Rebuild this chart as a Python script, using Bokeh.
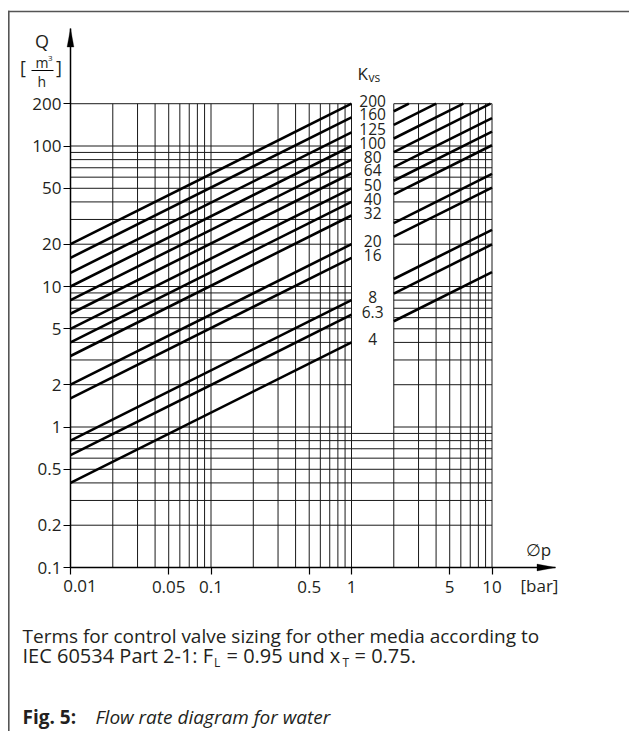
import math
from bokeh.plotting import figure
from bokeh.models import (Range1d, FixedTicker, CustomJSTickFormatter, Label,
                          BoxAnnotation, PolyAnnotation)
from bokeh.core.properties import value
from bokeh.embed import file_html
from bokeh.resources import INLINE

# ---------------- data ----------------
kvs_values = [200, 160, 125, 100, 80, 64, 50, 40, 32, 20, 16, 8, 6.3, 4]
kvs_labels = ["200", "160", "125", "100", "80", "64", "50", "40", "32",
              "20", "16", "8", "6.3", "4"]
dp_segments = [(0.01, 1.0), (2.0, 10.0)]      # drawn pressure-drop ranges [bar]
q_max = 200.0                                  # top of the diagram [m3/h]
x_ticks = [0.01, 0.05, 0.1, 0.5, 1, 5, 10]
y_ticks = [0.1, 0.2, 0.5, 1, 2, 5, 10, 20, 50, 100, 200]
x_grid = [0.01, 0.02, 0.03, 0.04, 0.05, 0.06, 0.07, 0.08, 0.09,
          0.1, 0.2, 0.3, 0.4, 0.5, 0.6, 0.7, 0.8, 0.9,
          1, 2, 3, 4, 5, 6, 7, 8, 9, 10]
y_grid = [0.1, 0.2, 0.3, 0.4, 0.5, 0.6, 0.7, 0.8, 0.9,
          1, 2, 3, 4, 5, 6, 7, 8, 9,
          10, 20, 30, 40, 50, 60, 70, 80, 90, 100, 200]

# ---------------- layout (pixel geometry of the picture) ----------------
W, H = 629, 731
AX_X, AX_Y = 70, 567          # pixel position of dp=0.01 and Q=0.1
TIP_X, TIP_Y = 555, 28        # arrow tips of the axes
DEC = 140.5                   # pixels per decade on both axes
x0, y0 = x_ticks[0], y_ticks[0]
x_lo = x0 * 10 ** ((0 - AX_X) / DEC)
x_hi = x0 * 10 ** ((W - AX_X) / DEC)
y_lo = y0 * 10 ** (-(H - AX_Y) / DEC)
y_hi = y0 * 10 ** (AX_Y / DEC)
x_tip = x0 * 10 ** ((TIP_X - AX_X) / DEC)
y_tip = y0 * 10 ** ((AX_Y - TIP_Y) / DEC)


def sx(px):
    return px


def sy(py):
    return H - py


p = figure(width=W, height=H, x_axis_type="log", y_axis_type="log",
           x_range=Range1d(x_lo, x_hi), y_range=Range1d(y_lo, y_hi),
           output_backend="svg", toolbar_location=None,
           min_border_left=0, min_border_right=0,
           min_border_top=0, min_border_bottom=0)
p.outline_line_color = None
p.grid.visible = False
p.background_fill_color = "white"
p.border_fill_color = "white"

FONT = "Open Sans"
INK = "#231f20"

# axes, drawn at dp = 0.01 and Q = 0.1
for ax, ticks in ((p.xaxis, x_ticks), (p.yaxis, y_ticks)):
    ax.ticker = FixedTicker(ticks=ticks, minor_ticks=[])
    ax.axis_line_color = "black"
    ax.axis_line_width = 1.5
    ax.major_tick_line_color = "black"
    ax.major_tick_line_width = 1.2
    ax.major_tick_out = 7
    ax.major_tick_in = 0
    ax.minor_tick_out = 0
    ax.minor_tick_in = 0
    ax.major_label_text_font = FONT
    ax.major_label_text_font_size = "17px"
    ax.major_label_text_color = INK
p.xaxis.fixed_location = y0
p.yaxis.fixed_location = x0
p.xaxis.bounds = (x0, x_tip)
p.yaxis.bounds = (y0, y_tip)
p.xaxis.formatter = CustomJSTickFormatter(
    code="return Math.abs(tick - 0.01) < 1e-12 ? '' : String(tick);")
p.yaxis.formatter = CustomJSTickFormatter(code="return String(tick);")
p.xaxis.major_label_standoff = 6
p.yaxis.major_label_standoff = 2

# grid
gx0, gy0, gx1, gy1 = [], [], [], []
for gx in x_grid:
    gx0.append(gx); gx1.append(gx); gy0.append(y_grid[0]); gy1.append(q_max)
for gy in y_grid:
    if gy >= 1:
        for a, b in dp_segments:
            gx0.append(a); gx1.append(b); gy0.append(gy); gy1.append(gy)
    else:
        gx0.append(dp_segments[0][0]); gx1.append(dp_segments[-1][1])
        gy0.append(gy); gy1.append(gy)
p.segment(x0=gx0, y0=gy0, x1=gx1, y1=gy1, line_color="#1a1a1a", line_width=1)

# Kvs lines: Q = Kvs * sqrt(dp), clipped at the top of the diagram
lx, ly = [], []
for k in kvs_values:
    for a, b in dp_segments:
        qa = k * math.sqrt(a)
        if qa > q_max:
            continue
        bb = min(b, (q_max / k) ** 2)
        lx.append([a, bb])
        ly.append([qa, k * math.sqrt(bb)])
p.multi_line(xs=lx, ys=ly, line_color="black", line_width=2.6)

# Kvs labels in the gap
gap_mid = math.sqrt(dp_segments[0][1] * dp_segments[1][0])
p.text(x=[gap_mid] * len(kvs_values), y=kvs_values, text=kvs_labels,
       text_align="center", text_baseline="middle", y_offset=-3,
       text_font=value(FONT), text_font_size="15.5px", text_color=INK)


def lab(text, x, base, size, align="left", style="normal"):
    # base = wanted baseline of the text in the picture
    p.add_layout(Label(x=sx(x), y=sy(base - 0.38 * size),
                       x_units="screen", y_units="screen",
                       text=text, text_font=FONT, text_font_size=f"{size}px",
                       text_align=align, text_baseline="alphabetic",
                       text_font_style=style, text_color=INK))


def box(l, r, t, b, color="black"):
    p.add_layout(BoxAnnotation(left=sx(l), right=sx(r), top=sy(t), bottom=sy(b),
                               left_units="screen", right_units="screen",
                               top_units="screen", bottom_units="screen",
                               fill_color=color, fill_alpha=1, line_color=None))


# arrow heads
p.add_layout(PolyAnnotation(xs=[sx(AX_X), sx(AX_X - 3.4), sx(AX_X + 3.4)],
                            ys=[sy(TIP_Y), sy(TIP_Y + 18.5), sy(TIP_Y + 18.5)],
                            xs_units="screen", ys_units="screen",
                            fill_color="black", fill_alpha=1, line_color="black"))
p.add_layout(PolyAnnotation(xs=[sx(TIP_X), sx(TIP_X - 18.5), sx(TIP_X - 18.5)],
                            ys=[sy(AX_Y), sy(AX_Y - 3.4), sy(AX_Y + 3.4)],
                            xs_units="screen", ys_units="screen",
                            fill_color="black", fill_alpha=1, line_color="black"))

# axis titles
lab("Q", 41.5, 47, 18, align="center")
lab("[", 19.5, 73.5, 18)
lab("]", 55.5, 73.5, 18)
lab("m", 35, 67.3, 14)
lab("3", 47.5, 61, 8)
lab("h", 37, 86.7, 14)
box(31, 53, 69.6, 70.6)
lab("K", 357, 79.5, 17)
lab("vs", 368, 81.5, 12)
lab("\u2205p", 538, 555, 17, align="center")
lab("[bar]", 520, 591, 17)
lab("0.01", 79.5, 591.5, 17, align="center")

# frame lines of the figure box
box(7.5, 629, 10.2, 11.8, color="#555555")
box(7.5, 9.1, 10.2, 731, color="#555555")

# caption
lab("Terms for control valve sizing for other media according to", 22, 643, 19)
lab("IEC 60534 Part 2-1: F", 22, 663, 20)
lab("L", 213.5, 667, 12)
lab("= 0.95 und x", 226, 663, 20)
lab("T", 342, 667, 12)
lab("= 0.75.", 354, 663, 20)
lab("Fig. 5:", 22, 724, 19, style="bold")
lab("Flow rate diagram for water", 95, 724, 19, style="italic")

open("out.html", "w").write(file_html(p, INLINE))
